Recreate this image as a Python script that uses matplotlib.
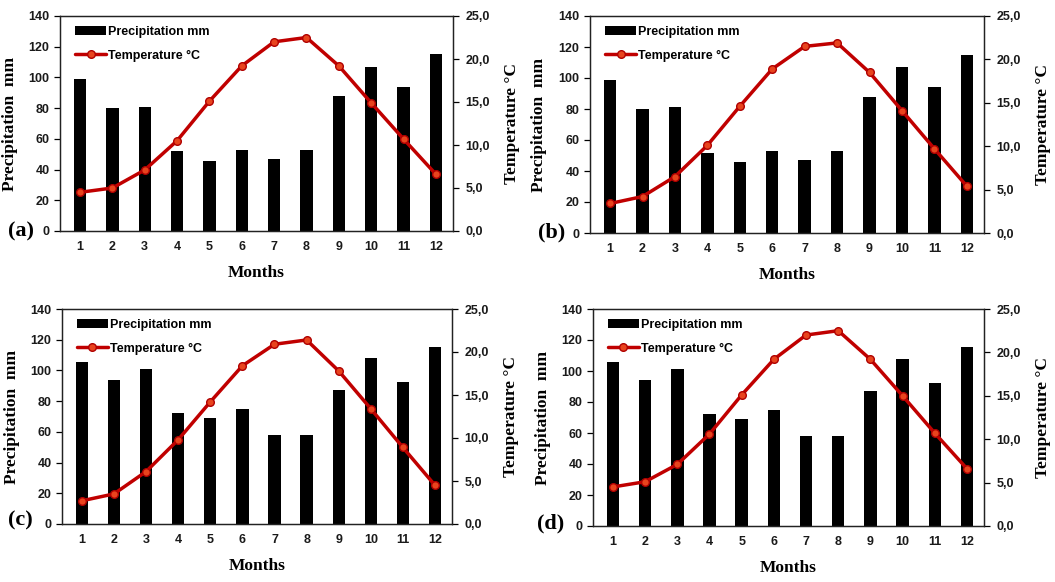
import matplotlib
matplotlib.use("Agg")
import matplotlib.pyplot as plt
from matplotlib.ticker import FuncFormatter, MultipleLocator

months = list(range(1, 13))
month_labels = [str(m) for m in months]

precip_a = [99, 80, 81, 52, 45.5, 53, 47, 53, 88, 107, 94, 115]
temp_a = [4.5, 5.0, 7.1, 10.5, 15.1, 19.2, 22.0, 22.5, 19.2, 14.9, 10.7, 6.6]
precip_b = [98.5, 80, 81, 51.5, 45.5, 53, 47, 53, 87.5, 107, 94, 115]
temp_b = [3.4, 4.2, 6.5, 10.1, 14.6, 18.9, 21.5, 21.9, 18.5, 14.1, 9.7, 5.4]
precip_c = [105.5, 94, 101, 72, 69, 75, 58, 58, 87, 108, 92.5, 115.5]
temp_c = [2.7, 3.5, 6.1, 9.8, 14.2, 18.4, 20.9, 21.4, 17.8, 13.4, 8.9, 4.5]
precip_d = [105.5, 94, 101, 72, 69, 75, 58, 58, 87, 108, 92.5, 115.5]
temp_d = [4.5, 5.1, 7.1, 10.6, 15.1, 19.2, 22.0, 22.5, 19.2, 15.0, 10.7, 6.6]

panel_names = ["(a)", "(b)", "(c)", "(d)"]
precip_label = "Precipitation mm"
temp_label = "Temperature °C"

W, H = 1055, 582
fig = plt.figure(figsize=(W / 100, H / 100), dpi=100)

# pixel boxes: left, right, top, bottom
boxes = [(60, 453, 16, 231), (590, 984, 16, 233), (62, 452, 309, 524), (593, 984, 309, 526)]
panel_pos = [(8, 231), (538, 232), (8, 520), (537, 523)]
data = [(precip_a, temp_a), (precip_b, temp_b), (precip_c, temp_c), (precip_d, temp_d)]

sans = "Liberation Sans"
serif = "Liberation Serif"
line_col = "#C00000"

for (l, r, t, b), (pr, tp), name, (px, py) in zip(boxes, data, panel_names, panel_pos):
    ax = fig.add_axes([l / W, 1 - b / H, (r - l) / W, (b - t) / H])
    ax2 = ax.twinx()
    ax.set_zorder(1)
    ax2.set_zorder(2)
    ax.patch.set_visible(False)

    ax.bar(months, pr, width=0.385, color="black", label=precip_label, zorder=2)
    ax.set_ylim(0, 140)
    ax.yaxis.set_major_locator(MultipleLocator(20))
    ax.set_xlim(0.38, 12.53)
    ax.set_xticks(months)
    ax.set_xticklabels(month_labels)

    ax2.plot(months, tp, color=line_col, lw=2.5, marker="o", markersize=5.5,
             markerfacecolor="#E8441E", markeredgecolor="#B00000", markeredgewidth=1.0,
             label=temp_label, solid_capstyle="round")
    ax2.set_ylim(0, 25)
    ax2.yaxis.set_major_locator(MultipleLocator(5))
    ax2.yaxis.set_major_formatter(FuncFormatter(lambda v, p: f"{v:.1f}".replace(".", ",")))

    for a in (ax, ax2):
        for s in a.spines.values():
            s.set_linewidth(0.9)
            s.set_color("#222222")
    ax.tick_params(axis="x", length=0, pad=7)
    ax.tick_params(axis="y", length=4, width=0.9, pad=3.5, direction="out")
    ax2.tick_params(axis="y", length=4, width=0.9, pad=5, direction="out")
    for lab in ax.get_xticklabels() + ax.get_yticklabels() + ax2.get_yticklabels():
        lab.set_fontfamily(sans)
        lab.set_fontweight("bold")
        lab.set_fontsize(9)
        lab.set_color("#1a1a1a")

    ax.set_ylabel("Precipitation  mm", fontfamily=serif, fontweight="bold", fontsize=12.5)
    ax.yaxis.set_label_coords(-0.108, 0.5)
    ax2.set_ylabel(temp_label, fontfamily=serif, fontweight="bold", fontsize=12.5)
    ax2.yaxis.set_label_coords(1.13, 0.5)
    ax.set_xlabel("Months", fontfamily=serif, fontweight="bold", fontsize=12.5)
    ax.xaxis.set_label_coords(0.5, -42 / (b - t))
    ax.xaxis.label.set_va("center")

    h1, l1 = ax.get_legend_handles_labels()
    h2, l2 = ax2.get_legend_handles_labels()
    leg = ax2.legend(h1 + h2, l1 + l2, loc="upper left", bbox_to_anchor=(0.038, 0.955),
                     frameon=False, borderpad=0, borderaxespad=0, handlelength=2.5,
                     handletextpad=0.15, labelspacing=0.95,
                     prop={"family": sans, "weight": "bold", "size": 9})

    fig.text(px / W, 1 - py / H, name, fontfamily=serif, fontweight="bold", fontsize=16,
             ha="left", va="center")

fig.savefig("out.png", dpi=100)
